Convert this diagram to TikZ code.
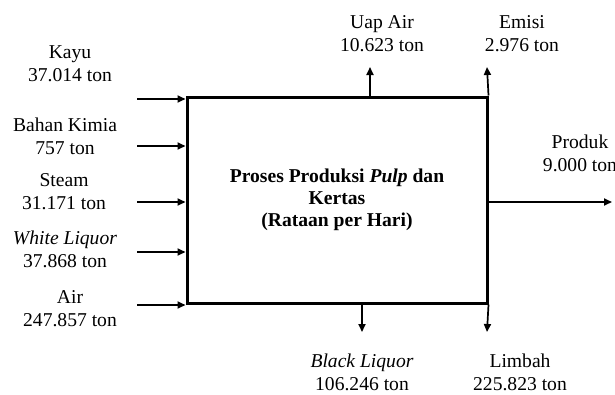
\documentclass[tikz,border=0pt]{standalone}
\usepackage{fontspec}
\setmainfont{Liberation Serif}
\usetikzlibrary{arrows.meta}
\begin{document}
\begin{tikzpicture}[x=1pt,y=-1pt,
  lbl/.style={align=center,inner sep=0pt,font=\fontsize{19.6}{23}\selectfont},
  flow/.style={line width=1.7pt,-{Triangle[length=8pt,width=7pt]}},
  procbox/.style={draw,line width=3pt,minimum width=300pt,minimum height=206pt,inner sep=0pt,align=center,font=\fontsize{19.6}{22}\selectfont\bfseries}]
\useasboundingbox (0,0) rectangle (615,394);
\node[procbox] (box) at (337,200) {Proses Produksi \textit{Pulp} dan\\Kertas\\(Rataan per Hari)};
% input labels
\node[lbl] (kayu) at (70,63.5) {Kayu\\37.014 ton};
\node[lbl] (kimia) at (65,136.5) {Bahan Kimia\\757 ton};
\node[lbl] (steam) at (64,191.5) {Steam\\31.171 ton};
\node[lbl] (white) at (65,249) {\textit{White Liquor}\\37.868 ton};
\node[lbl] (air) at (70,308.5) {Air\\247.857 ton};
% output labels
\node[lbl] (uap) at (382,33.5) {Uap Air\\10.623 ton};
\node[lbl] (emisi) at (522,33.5) {Emisi\\2.976 ton};
\node[lbl] (produk) at (580,153.5) {Produk\\9.000 ton};
\node[lbl] (black) at (362,372) {\textit{Black Liquor}\\106.246 ton};
\node[lbl] (limbah) at (520,372) {Limbah\\225.823 ton};
% input arrow start points
\coordinate (kayuS) at (137,99);
\coordinate (kimiaS) at (137,146);
\coordinate (steamS) at (137,202);
\coordinate (whiteS) at (137,252);
\coordinate (airS) at (137,305);
\foreach \s in {kayuS,kimiaS,steamS,whiteS,airS}
  \draw[flow] (\s) -- (\s -| box.west);
% output arrow end points
\coordinate (uapE) at (370,67);
\coordinate (emisiE) at (487,67);
\coordinate (produkE) at (612,202);
\coordinate (blackE) at (362,332);
\coordinate (limbahE) at (487,332);
\draw[flow] (uapE |- box.north) -- (uapE);
\draw[flow] (box.north east) -- (emisiE);
\draw[flow] (produkE -| box.east) -- (produkE);
\draw[flow] (blackE |- box.south) -- (blackE);
\draw[flow] (box.south east) -- (limbahE);
\end{tikzpicture}
\end{document}
